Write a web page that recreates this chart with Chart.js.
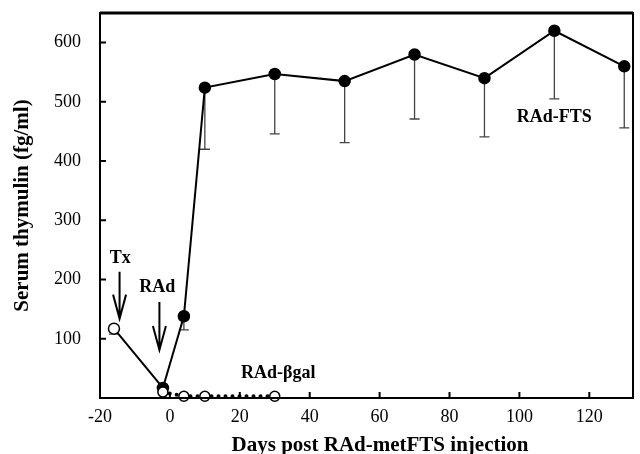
<!DOCTYPE html>
<html>
<head>
<meta charset="utf-8">
<script src="https://cdn.jsdelivr.net/npm/chart.js@4.4.0/dist/chart.umd.min.js"></script>
<style>
  html, body { margin: 0; padding: 0; background: #fff; }
</style>
</head>
<body>
<canvas id="thymulin" width="640" height="454"></canvas>
<script>
// RAd-metFTS group (first point is the Tx baseline, drawn open)
const ftsDays = [-16, -2, 4, 10, 30, 50, 70, 90, 110, 130];
const ftsValues = [117, 17, 138, 524, 547, 535, 580, 540, 620, 560];
const ftsLower = [108, null, 115, 420, 446, 431, 471, 441, 505, 456];
const ftsFill = ["#fff", "#000", "#000", "#000", "#000", "#000", "#000", "#000", "#000", "#000"];

// RAd-betagal control group
const galDays = [-2, 4, 10, 30];
const galValues = [10, 3, 3, 3];

// axis ticks
const xTicks = [-20, 0, 20, 40, 60, 80, 100, 120];
const yTicks = [100, 200, 300, 400, 500, 600];

// text labels and arrows, in data units
const notes = [
  { text: "Tx", x: -14.2, y: 236 },
  { text: "RAd", x: -3.6, y: 186 },
  { text: "RAd-\u03b2gal", x: 31, y: 42 },
  { text: "RAd-FTS", x: 110, y: 473 },
];
const arrows = [
  { x: -14.4, from: 213, to: 134 },
  { x: -3, from: 162, to: 81 },
];

const serif = "'Liberation Serif', 'Times New Roman', serif";

const toPoints = (xs, ys) => xs.map((d, i) => ({ x: d, y: ys[i] }));

const decorations = {
  id: "decorations",
  beforeDatasetsDraw(chart) {
    const { ctx, scales: { x, y } } = chart;
    ctx.save();
    ctx.strokeStyle = "#444";
    ctx.lineWidth = 1.3;
    ftsLower.forEach((low, i) => {
      if (low === null) return;
      const px = x.getPixelForValue(ftsDays[i]);
      const top = y.getPixelForValue(ftsValues[i]);
      const bot = y.getPixelForValue(low);
      ctx.beginPath();
      ctx.moveTo(px, top);
      ctx.lineTo(px, bot);
      ctx.moveTo(px - 5, bot);
      ctx.lineTo(px + 5, bot);
      ctx.stroke();
    });
    ctx.restore();
  },
  afterDraw(chart) {
    const { ctx, chartArea: a, scales: { x, y } } = chart;
    ctx.save();
    ctx.strokeStyle = "#000";
    ctx.lineWidth = 2;
    ctx.strokeRect(a.left, a.top, a.right - a.left, a.bottom - a.top);
    ctx.lineWidth = 3;
    ctx.beginPath();
    ctx.moveTo(a.left, a.top);
    ctx.lineTo(a.right, a.top);
    ctx.stroke();

    // inward tick marks
    ctx.lineWidth = 2;
    ctx.beginPath();
    yTicks.forEach(v => {
      const py = y.getPixelForValue(v);
      ctx.moveTo(a.left, py);
      ctx.lineTo(a.left + 6, py);
    });
    xTicks.forEach(v => {
      const px = x.getPixelForValue(v);
      ctx.moveTo(px, a.bottom);
      ctx.lineTo(px, a.bottom - 6);
    });
    ctx.stroke();

    // arrows
    arrows.forEach(ar => {
      const px = x.getPixelForValue(ar.x);
      const p0 = y.getPixelForValue(ar.from);
      const p1 = y.getPixelForValue(ar.to);
      ctx.beginPath();
      ctx.moveTo(px, p0);
      ctx.lineTo(px, p1);
      ctx.moveTo(px - 6.5, p1 - 24);
      ctx.lineTo(px, p1);
      ctx.lineTo(px + 6.5, p1 - 24);
      ctx.stroke();
    });

    // notes
    ctx.fillStyle = "#000";
    ctx.font = "bold 18px " + serif;
    ctx.textAlign = "center";
    ctx.textBaseline = "middle";
    notes.forEach(n => {
      ctx.fillText(n.text, x.getPixelForValue(n.x), y.getPixelForValue(n.y));
    });

    // axis titles
    ctx.font = "bold 21px " + serif;
    ctx.fillText("Days post RAd-metFTS injection", 380, 446);
    ctx.translate(23, (a.top + a.bottom) / 2);
    ctx.rotate(-Math.PI / 2);
    ctx.fillText("Serum thymulin (fg/ml)", 0, 0);
    ctx.restore();
  },
};

new Chart(document.getElementById("thymulin"), {
  type: "scatter",
  data: {
    datasets: [
      {
        label: "RAd-betagal",
        data: toPoints(galDays, galValues),
        showLine: true,
        borderColor: "#000",
        borderWidth: 4,
        borderDash: [0, 7],
        borderCapStyle: "round",
        pointRadius: 5,
        pointBackgroundColor: "#fff",
        pointBorderColor: "#000",
        pointBorderWidth: 1.5,
        clip: false,
      },
      {
        label: "RAd-FTS",
        data: toPoints(ftsDays, ftsValues),
        showLine: true,
        borderColor: "#000",
        borderWidth: 2,
        pointRadius: 5.5,
        pointBackgroundColor: ftsFill,
        pointBorderColor: "#000",
        pointBorderWidth: 1.5,
        clip: false,
      },
    ],
  },
  options: {
    responsive: false,
    animation: false,
    layout: { padding: { top: 13, right: 7, left: 0, bottom: 0 } },
    plugins: { legend: { display: false }, tooltip: { enabled: false } },
    scales: {
      x: {
        type: "linear",
        min: -20,
        max: 132.5,
        afterBuildTicks: s => { s.ticks = xTicks.map(v => ({ value: v })); },
        afterFit: s => { s.height = 56; s.paddingLeft = 0; s.paddingRight = 0; },
        grid: { display: false, drawTicks: false },
        border: { display: false },
        ticks: { color: "#000", padding: 8, maxRotation: 0, font: { family: serif, size: 18 } },
      },
      y: {
        min: 0,
        max: 650,
        afterBuildTicks: s => { s.ticks = yTicks.map(v => ({ value: v })); },
        afterFit: s => { s.width = 100; s.paddingTop = 0; s.paddingBottom = 0; },
        grid: { display: false, drawTicks: false },
        border: { display: false },
        ticks: { color: "#000", padding: 19, font: { family: serif, size: 18 } },
      },
    },
  },
  plugins: [decorations],
});
</script>
</body>
</html>
